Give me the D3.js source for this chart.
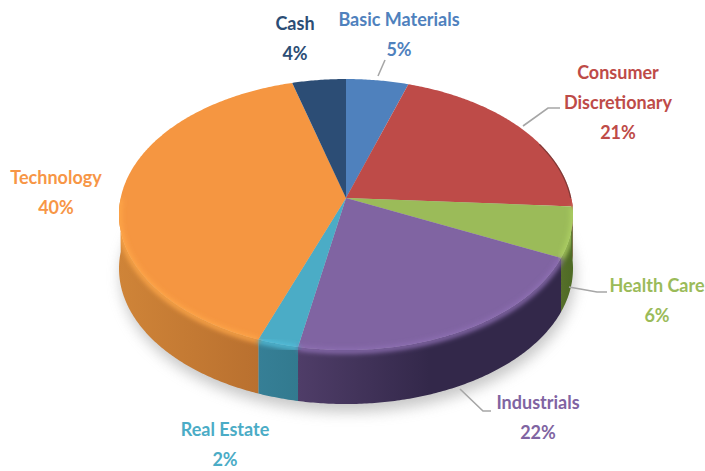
<!DOCTYPE html>
<html>
<head>
<meta charset="utf-8">
<script src="https://cdn.jsdelivr.net/npm/d3@7"></script>
<style>
html, body { margin: 0; padding: 0; background: #fff; }
svg { display: block; }
text { font-family: Lato, sans-serif; font-weight: 700; font-size: 18px; text-anchor: middle; dominant-baseline: central; }
</style>
</head>
<body>
<script>
const categories = ['Basic Materials', 'Consumer Discretionary', 'Health Care', 'Industrials', 'Real Estate', 'Technology', 'Cash']
// slice sizes, the printed labels are rounded differently
const shares = [5, 21, 6, 21, 2.6, 40.1, 4.3]
const printed = ['5%', '21%', '6%', '22%', '2%', '40%', '4%']

const topColors = ['#4f81bd', '#be4b48', '#9bbb59', '#8064a2', '#4bacc6', '#f59641', '#2c4d75']
const wallLeft = ['#3f6a9c', '#9c3d3a', '#566f2a', '#4f3d68', '#367f96', '#cf8438', '#223c5c']
const wallRight = ['#3f6a9c', '#9c3d3a', '#4d6a24', '#33284a', '#327a8f', '#b9702f', '#223c5c']
const wallRamp = [1, 1, 1, 0.5, 1, 1, 1]

// label lines, centre x and the y of the first line
const labelLines = [['Basic Materials'], ['Consumer', 'Discretionary'], ['Health Care'], ['Industrials'], ['Real Estate'], ['Technology'], ['Cash']]
const labelX = [399, 618, 657, 538, 225, 56, 295]
const labelY = [19, 72, 285, 402, 429, 177, 23]
const leaders = [
    [[385, 60], [378, 76]],
    [[523, 126], [548, 108], [560, 108]],
    [[569, 287], [597, 292], [607, 292]],
    [[460, 389], [483, 411], [491, 411]]
]

const WIDTH = 705
const HEIGHT = 471
const apex = { x: 346, y: 198 }
const persp = 0.122   // how much the near edge of the disc is enlarged
const radiusX = 225.3
const radiusY = 133.5
const depth = 54

const svg = d3.select('body').append('svg')
    .attr('width', WIDTH)
    .attr('height', HEIGHT)

const defs = svg.append('defs')
defs.append('filter').attr('id', 'soft').attr('x', '-20%').attr('y', '-20%').attr('width', '140%').attr('height', '140%')
    .append('feGaussianBlur').attr('stdDeviation', 7)
defs.append('filter').attr('id', 'rim').attr('x', '-20%').attr('y', '-20%').attr('width', '140%').attr('height', '140%')
    .append('feGaussianBlur').attr('stdDeviation', 2.6)

// clockwise angle from 12 o'clock -> point on the tilted disc
function project(a, drop = 0) {
    const u = Math.sin(a), v = Math.cos(a)
    const w = 1 + persp * v
    return [apex.x + radiusX * u / w, apex.y - radiusY * v / w + drop]
}

function samples(a0, a1) {
    const n = Math.max(2, Math.ceil((a1 - a0) / 0.01))
    return d3.range(n + 1).map(i => a0 + (a1 - a0) * i / n)
}

const line = d3.line()
const arcs = d3.pie().sort(null)(shares)

// the wall only shows where the rim faces the viewer
const frontStart = Math.PI * 0.5
const frontEnd = Math.PI * 1.5

function wallPath(a0, a1) {
    const s = samples(a0, a1)
    const rimPts = s.map(a => project(a))
    const lowPts = s.slice().reverse().map(a => project(a, depth))
    return line(rimPts.concat(lowPts)) + 'Z'
}

// everything the bevel may paint on
const outline = defs.append('clipPath').attr('id', 'solid')
outline.append('path').attr('d', line(samples(0, Math.PI * 2).map(a => project(a))) + 'Z')
outline.append('path').attr('d', wallPath(frontStart, frontEnd))

// shadow under the disc
svg.append('path')
    .attr('d', line(samples(0, Math.PI * 2).map(a => {
        const p = project(a, depth + 8)
        return [p[0] + 2, p[1]]
    })) + 'Z')
    .attr('fill', '#9a9a9a')
    .attr('opacity', 0.55)
    .attr('filter', 'url(#soft)')

// walls
arcs.forEach((d, i) => {
    const a0 = Math.max(d.startAngle, frontStart)
    const a1 = Math.min(d.endAngle, frontEnd)
    if (a1 <= a0) return
    const xs = samples(a0, a1).map(a => project(a)[0])
    const id = 'wall' + i
    const g = defs.append('linearGradient').attr('id', id)
        .attr('gradientUnits', 'userSpaceOnUse')
        .attr('x1', d3.min(xs)).attr('x2', d3.max(xs))
        .attr('y1', 0).attr('y2', 0)
    g.append('stop').attr('offset', 0).attr('stop-color', wallLeft[i])
    g.append('stop').attr('offset', wallRamp[i]).attr('stop-color', wallRight[i])
    svg.append('path').attr('d', wallPath(a0, a1)).attr('fill', `url(#${id})`)
})

// top surface
function slicePath(d) {
    return line([[apex.x, apex.y]].concat(samples(d.startAngle, d.endAngle).map(a => project(a)))) + 'Z'
}

arcs.forEach((d, i) => {
    svg.append('path').attr('d', slicePath(d)).attr('fill', topColors[i])
})

const bevels = svg.append('g').attr('clip-path', 'url(#solid)')

// dark sliver on the far right of the rim
bevels.append('path')
    .attr('d', line(samples(Math.PI * 0.36, Math.PI * 0.5).map(a => project(a))))
    .attr('fill', 'none')
    .attr('stroke', '#4a2a26')
    .attr('stroke-width', 2.4)
    .attr('opacity', 0.55)

// bevel along the near rim, blurred
arcs.forEach((d, i) => {
    const a0 = Math.max(d.startAngle, frontStart)
    const a1 = Math.min(d.endAngle, frontEnd)
    if (a1 <= a0) return
    const bright = d3.color(topColors[i]).brighter(0.3).formatHex()
    bevels.append('path')
        .attr('d', line(samples(a0, a1).map(a => project(a, 1))))
        .attr('fill', 'none')
        .attr('stroke', bright)
        .attr('stroke-width', 5)
        .attr('filter', 'url(#rim)')
})

// leader lines
svg.append('g').selectAll('path')
    .data(leaders)
    .join('path')
    .attr('d', d => line(d))
    .attr('fill', 'none')
    .attr('stroke', '#a6a6a6')
    .attr('stroke-width', 1.6)

// labels, each with its share underneath
const labelColors = ['#4f81bd', '#be4b48', '#9bbb59', '#8064a2', '#4bacc6', '#f79646', '#2c4d75']
categories.forEach((c, i) => {
    const rows = labelLines[i].concat([printed[i]])
    svg.append('g').selectAll('text')
        .data(rows)
        .join('text')
        .attr('x', labelX[i])
        .attr('y', (r, j) => labelY[i] + j * 30)
        .attr('fill', labelColors[i])
        .text(r => r)
})
</script>
</body>
</html>
